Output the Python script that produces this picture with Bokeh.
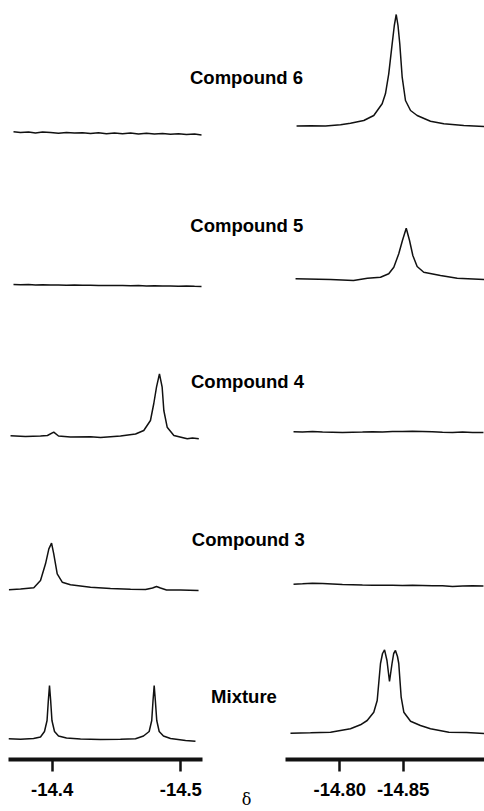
from bokeh.plotting import figure
from bokeh.models import Range1d, LinearAxis, FixedTicker, PrintfTickFormatter
from bokeh.layouts import column, row
from bokeh.embed import file_html
from bokeh.resources import INLINE
from bokeh.core.properties import value

# ---------------- data ----------------
LABELS = ["Compound 6", "Compound 5", "Compound 4", "Compound 3", "Mixture"]
LABEL_Y = [676.3, 528.0, 372.3, 214.0, 57.0]
LABEL_X = [238.0, 238.3, 239.0, 239.8, 235.5]

# stacking offsets (baseline of each spectrum), left and right windows
OFFSETS_LEFT = [620.0, 468.0, 316.5, 164.7, 14.5]
OFFSETS_RIGHT = [627.5, 474.5, 321.3, 169.3, 20.5]

TICKS_LEFT = [-14.4, -14.5]
TICKS_RIGHT = [-14.80, -14.85]
AXIS_LEFT = (-14.36602, -14.51687)
AXIS_RIGHT = (-14.75718, -14.91412)
AXIS_TITLE = "δ"

LEFT_FLAT_PPM = [-14.3699, -14.3753, -14.3816, -14.3870, -14.3925, -14.3987, -14.4049,
                 -14.4111, -14.4173, -14.4236, -14.4298, -14.4360, -14.4422, -14.4484,
                 -14.4547, -14.4609, -14.4671, -14.4733, -14.4795, -14.4858, -14.4920,
                 -14.4982, -14.5044, -14.5107, -14.5161]
RIGHT_FLAT_PPM = [-14.7635, -14.7706, -14.7785, -14.7864, -14.7942, -14.8021, -14.8100,
                  -14.8179, -14.8258, -14.8337, -14.8416, -14.8494, -14.8573, -14.8652,
                  -14.8731, -14.8810, -14.8889, -14.8968, -14.9047, -14.9133]

# Compound 6
c6_left_ppm = LEFT_FLAT_PPM
c6_left_int = [1.8, 1.0, 1.6, 0.6, 1.4, 0.9, 0.3, 1.1, 0.4, 0.8, 0.0, 0.7, -0.2, 0.5,
               -0.3, 0.4, -0.5, 0.2, -0.6, -0.1, -0.8, -0.3, -1.0, -0.6, -1.4]
c6_right_ppm = [-14.7659, -14.7769, -14.7887, -14.8006, -14.8084, -14.8189, -14.8268,
                -14.8334, -14.8360, -14.8386, -14.8413, -14.8430, -14.8445, -14.8459,
                -14.8473, -14.8492, -14.8518, -14.8558, -14.8610, -14.8715, -14.8820,
                -14.8978, -14.9141]
c6_right_int = [0.0, 0.2, -0.1, 1.2, 2.8, 5.5, 10.5, 22.2, 32.2, 52.2, 82.2, 100.5, 111.5,
                100.5, 82.2, 48.8, 25.5, 15.5, 10.5, 4.8, 2.2, 0.5, -0.5]

# Compound 5
c5_left_ppm = LEFT_FLAT_PPM
c5_left_int = [1.0, 0.8, 0.9, 0.6, 0.7, 0.5, 0.6, 0.3, 0.4, 0.2, 0.3, 0.0, 0.1, -0.1,
               0.0, -0.3, -0.1, -0.4, -0.3, -0.5, -0.4, -0.7, -0.6, -0.8, -0.9]
c5_right_ppm = [-14.7651, -14.7927, -14.8108, -14.8218, -14.8321, -14.8386, -14.8426,
                -14.8465, -14.8494, -14.8524, -14.8550, -14.8576, -14.8610, -14.8662,
                -14.8794, -14.8926, -14.9141]
c5_right_int = [0.2, -0.5, -1.5, 0.8, 1.8, 5.2, 11.8, 25.2, 38.5, 50.8, 38.5, 23.5, 12.5,
                6.8, 3.5, 0.8, -0.5]

# Compound 4
c4_left_ppm = [-14.3676, -14.3792, -14.3909, -14.3963, -14.4012, -14.4049, -14.4142,
               -14.4298, -14.4376, -14.4531, -14.4648, -14.4712, -14.4764, -14.4790,
               -14.4811, -14.4834, -14.4855, -14.4868, -14.4894, -14.4946, -14.5050,
               -14.5091, -14.5140]
c4_left_int = [1.2, 0.5, 1.0, 1.5, 4.8, 1.0, 0.0, 0.2, -0.5, 1.0, 3.0, 6.5, 16.5, 33.5,
               49.8, 63.2, 49.8, 26.5, 9.8, 1.5, -1.8, -1.0, -1.8]
c4_right_ppm = RIGHT_FLAT_PPM
c4_right_int = [0.5, 0.3, 0.6, 0.2, 0.0, -0.3, -0.1, 0.1, 0.4, 0.2, 0.6, 0.8, 1.0, 0.7,
                0.4, 0.0, -0.2, 0.1, -0.3, -0.4]

# Compound 3
c3_left_ppm = [-14.3663, -14.3754, -14.3857, -14.3909, -14.3948, -14.3974, -14.3995,
               -14.4012, -14.4039, -14.4078, -14.4142, -14.4298, -14.4453, -14.4609,
               -14.4726, -14.4780, -14.4811, -14.4842, -14.4889, -14.4998, -14.5138]
c3_left_int = [-1.0, -0.2, 1.0, 8.3, 25.0, 40.0, 45.6, 35.0, 15.0, 6.6, 4.0, 1.6, 0.3,
               -0.4, -0.7, 0.8, 2.3, 0.8, -1.2, -1.2, -1.7]
c3_right_ppm = RIGHT_FLAT_PPM
c3_right_int = [0.0, 0.4, 0.9, 0.6, 0.2, -0.2, -0.5, -0.8, -1.0, -1.1, -1.0, -1.2, -1.1,
                -1.3, -1.5, -1.6, -2.2, -1.8, -1.6, -1.8]

# Mixture
mix_left_ppm = [-14.3660, -14.3754, -14.3855, -14.3909, -14.3940, -14.3960, -14.3970,
                -14.3979, -14.3988, -14.3998, -14.4018, -14.4049, -14.4111, -14.4220,
                -14.4376, -14.4531, -14.4648, -14.4710, -14.4754, -14.4774, -14.4784,
                -14.4793, -14.4802, -14.4813, -14.4832, -14.4865, -14.4920, -14.5037,
                -14.5114]
mix_left_int = [0.2, -0.3, 0.5, 2.0, 7.5, 18.5, 38.5, 53.5, 38.5, 18.5, 7.5, 3.0, 1.0,
                0.0, -0.5, -0.3, 0.2, 3.0, 7.5, 18.5, 38.5, 53.5, 38.5, 18.5, 7.5, 3.0,
                0.5, -1.5, -2.2]
mix_right_ppm = [-14.7611, -14.7769, -14.7927, -14.8084, -14.8163, -14.8216, -14.8268,
                 -14.8295, -14.8309, -14.8321, -14.8337, -14.8353, -14.8372, -14.8392,
                 -14.8412, -14.8425, -14.8439, -14.8455, -14.8465, -14.8484, -14.8505,
                 -14.8558, -14.8636, -14.8715, -14.8860, -14.8999, -14.9141]
mix_right_int = [-0.2, 0.2, 0.8, 4.2, 8.2, 12.5, 20.8, 32.5, 52.5, 69.5, 79.5, 83.2, 72.5,
                 51.5, 69.5, 79.5, 82.5, 76.5, 69.5, 35.8, 20.8, 11.8, 7.5, 4.2, 0.8,
                 0.5, -0.5]

LEFT_SPECTRA = [(c6_left_ppm, c6_left_int), (c5_left_ppm, c5_left_int),
                (c4_left_ppm, c4_left_int), (c3_left_ppm, c3_left_int),
                (mix_left_ppm, mix_left_int)]
RIGHT_SPECTRA = [(c6_right_ppm, c6_right_int), (c5_right_ppm, c5_right_int),
                 (c4_right_ppm, c4_right_int), (c3_right_ppm, c3_right_int),
                 (mix_right_ppm, mix_right_int)]

# ---------------- layout ----------------
PAD = 8            # offset of the drawing from the page's top-left corner
W = 476            # width of the drawing area
H_MAIN = 745
H_AX = 58
AX_BORDER = 50
AX_FRAME_H = H_AX - AX_BORDER
LEFT_FRAME_W = 194
LEFT_GAP = 20
MID_W = 48
RIGHT_BORDER = 15
RIGHT_FRAME_W = W - LEFT_FRAME_W - LEFT_GAP - MID_W - RIGHT_BORDER

FONT = value("Liberation Sans")
LINE = "#111111"

ls, le = AXIS_LEFT
rs, re_ = AXIS_RIGHT
main_left = Range1d(ls, ls + (le - ls) * W / LEFT_FRAME_W)
main_right = Range1d(re_ - (re_ - rs) * W / RIGHT_FRAME_W, re_)


def clean(f):
    f.outline_line_color = None
    f.background_fill_color = "white"
    f.border_fill_color = "white"
    f.xgrid.grid_line_color = None
    f.ygrid.grid_line_color = None
    f.grid.visible = False


p = figure(width=W + PAD, height=H_MAIN + PAD, x_range=Range1d(0, W), y_range=Range1d(0, H_MAIN),
           output_backend="svg", toolbar_location=None, title=None,
           x_axis_location=None, y_axis_location=None,
           min_border_left=PAD, min_border_top=PAD, min_border_right=0, min_border_bottom=0)
clean(p)
p.extra_x_ranges = {"L": main_left, "R": main_right}

for (xs, ys), off in zip(LEFT_SPECTRA, OFFSETS_LEFT):
    p.line(xs, [v + off for v in ys], x_range_name="L", line_color=LINE, line_width=1.5)
for (xs, ys), off in zip(RIGHT_SPECTRA, OFFSETS_RIGHT):
    p.line(xs, [v + off for v in ys], x_range_name="R", line_color=LINE, line_width=1.5)

p.text(x=LABEL_X, y=LABEL_Y, text=LABELS, text_font=FONT, text_font_style="bold",
       text_font_size="18.5px", text_align="center", text_baseline="middle",
       text_color="black")


def axis_fig(rng, ticks, width, mleft, mright, fmt):
    f = figure(width=width, height=H_AX, x_range=Range1d(*rng), y_range=Range1d(0, 1),
               output_backend="svg", toolbar_location=None, title=None,
               x_axis_location=None, y_axis_location=None,
               min_border_left=mleft, min_border_right=mright,
               min_border_top=0, min_border_bottom=AX_BORDER)
    clean(f)
    ax = LinearAxis(ticker=FixedTicker(ticks=ticks), formatter=PrintfTickFormatter(format=fmt))
    ax.axis_line_width = 4
    ax.axis_line_color = "#111111"
    ax.major_tick_in = 0
    ax.major_tick_out = 12
    ax.major_tick_line_width = 2.5
    ax.major_tick_line_color = "#111111"
    ax.minor_tick_line_color = None
    ax.major_label_standoff = 11
    ax.major_label_text_font = "Liberation Sans"
    ax.major_label_text_font_style = "bold"
    ax.major_label_text_font_size = "18.5px"
    ax.major_label_text_color = "black"
    f.add_layout(ax, "below")
    return f


left_ax = axis_fig(AXIS_LEFT, TICKS_LEFT, PAD + LEFT_FRAME_W + LEFT_GAP, PAD, LEFT_GAP, "%.1f")
right_ax = axis_fig(AXIS_RIGHT, TICKS_RIGHT, RIGHT_FRAME_W + RIGHT_BORDER, RIGHT_BORDER, 0, "%.2f")

# middle strip: carries only the axis title (δ), centred between the two windows
mid = figure(width=MID_W, height=H_AX, x_range=Range1d(0, 1), y_range=Range1d(0, 1),
             output_backend="svg", toolbar_location=None, title=None,
             x_axis_location=None, y_axis_location=None,
             min_border_left=0, min_border_right=0, min_border_top=0,
             min_border_bottom=AX_BORDER)
clean(mid)
tax = LinearAxis(ticker=FixedTicker(ticks=[]), axis_label=AXIS_TITLE)
tax.axis_line_color = None
tax.major_tick_line_color = None
tax.minor_tick_line_color = None
tax.major_tick_out = 0
tax.major_tick_in = 0
tax.minor_tick_out = 0
tax.major_label_text_font_size = "0px"
tax.major_label_standoff = 0
tax.axis_label_standoff = 30
tax.axis_label_text_font = "DejaVu Serif"
tax.axis_label_text_font_style = "normal"
tax.axis_label_text_font_size = "16px"
tax.axis_label_text_color = "black"
mid.add_layout(tax, "below")

layout = column(p, row(left_ax, mid, right_ax))
open("out.html", "w").write(file_html(layout, INLINE))
